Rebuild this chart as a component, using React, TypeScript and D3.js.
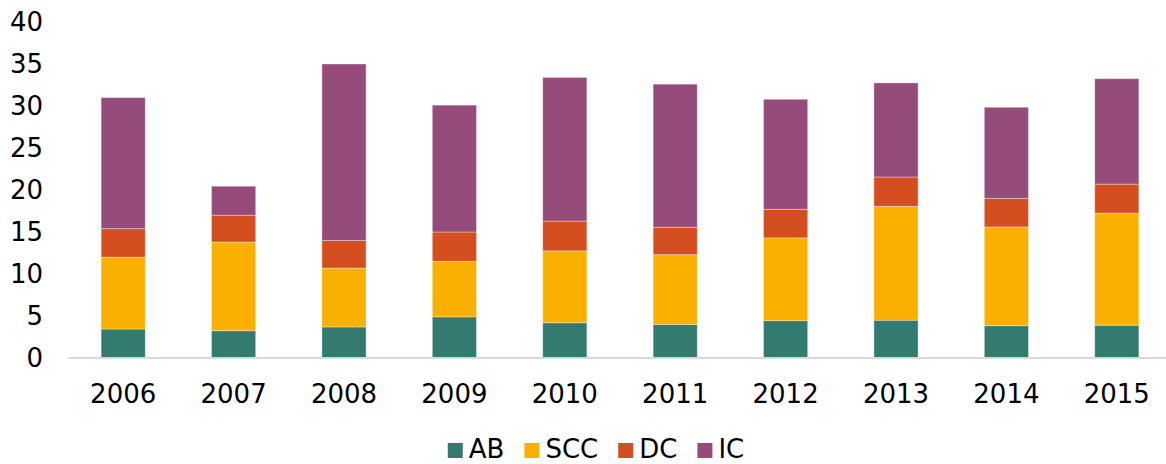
import React, { useEffect, useRef } from "react";
import * as d3 from "d3";

// values
const years = ["2006", "2007", "2008", "2009", "2010", "2011", "2012", "2013", "2014", "2015"];
const seriesNames = ["AB", "SCC", "DC", "IC"];
const abValues = [3.45, 3.25, 3.7, 4.9, 4.2, 4.0, 4.45, 4.5, 3.85, 3.9];
const sccValues = [8.55, 10.55, 7.0, 6.6, 8.55, 8.3, 9.85, 13.55, 11.75, 13.35];
const dcValues = [3.4, 3.2, 3.3, 3.5, 3.55, 3.25, 3.4, 3.5, 3.4, 3.45];
const icValues = [15.6, 3.45, 21.0, 15.1, 17.1, 17.05, 13.1, 11.2, 10.85, 12.55];
const yTicks = [0, 5, 10, 15, 20, 25, 30, 35, 40];
const colors = ["#337B6E", "#F9B000", "#D54E1F", "#954C7A"];

const App = () => {
  const chartRef = useRef<SVGSVGElement>(null);

  useEffect(() => {
    const width = 1166;
    const height = 464;
    const font = "'DejaVu Sans', Verdana, sans-serif";

    const svg = d3.select(chartRef.current);
    svg.selectAll("*").remove();
    svg.attr("width", width).attr("height", height);

    // Prepare rows for stacking
    const valueArrays = [abValues, sccValues, dcValues, icValues];
    const rows = years.map((year, i) => {
      const row: any = { year };
      seriesNames.forEach((s, k) => (row[s] = valueArrays[k][i]));
      return row;
    });
    const stacked = d3.stack().keys(seriesNames)(rows);

    const x = d3
      .scaleBand()
      .domain(years)
      .range([68, 1172])
      .paddingInner(0.6)
      .paddingOuter(0.3);
    const y = d3.scaleLinear().domain([0, 40]).range([358, 22]);

    // Bars
    svg
      .append("g")
      .selectAll("g")
      .data(stacked)
      .enter()
      .append("g")
      .attr("fill", (d, i) => colors[i])
      .selectAll("rect")
      .data((d) => d)
      .enter()
      .append("rect")
      .attr("x", (d: any) => x(d.data.year)!)
      .attr("width", x.bandwidth())
      .attr("y", (d) => y(d[1]))
      .attr("height", (d) => y(d[0]) - y(d[1]))
      .attr("stroke", "#fff")
      .attr("stroke-opacity", 0.35)
      .attr("stroke-width", 1);

    // x axis line
    svg
      .append("line")
      .attr("x1", 68)
      .attr("x2", width)
      .attr("y1", y(0))
      .attr("y2", y(0))
      .attr("stroke", "#D9D9D9")
      .attr("stroke-width", 2);

    // y tick labels
    svg
      .append("g")
      .selectAll("text")
      .data(yTicks)
      .enter()
      .append("text")
      .attr("x", 43)
      .attr("y", (d) => y(d))
      .attr("dy", "0.36em")
      .attr("text-anchor", "end")
      .attr("font-family", font)
      .attr("font-size", "26px")
      .attr("fill", "#000")
      .text((d) => d);

    // x tick labels
    svg
      .append("g")
      .selectAll("text")
      .data(years)
      .enter()
      .append("text")
      .attr("x", (d) => x(d)! + x.bandwidth() / 2)
      .attr("y", 403)
      .attr("text-anchor", "middle")
      .attr("font-family", font)
      .attr("font-size", "26px")
      .attr("fill", "#000")
      .text((d) => d);

    // Legend
    const legend = svg.append("g");
    let cursor = 0;
    seriesNames.forEach((name, i) => {
      const item = legend.append("g").attr("transform", `translate(${cursor},0)`);
      item
        .append("rect")
        .attr("x", 0)
        .attr("y", 443)
        .attr("width", 15)
        .attr("height", 15)
        .attr("fill", colors[i]);
      const label = item
        .append("text")
        .attr("x", 21)
        .attr("y", 458)
        .attr("font-family", font)
        .attr("font-size", "26px")
        .attr("fill", "#000")
        .text(name);
      const w = (label.node() as SVGTextElement).getComputedTextLength();
      cursor += 21 + w + 20;
    });
    const legendWidth = cursor - 20;
    legend.attr("transform", `translate(${596 - legendWidth / 2},0)`);
  }, []);

  return (
    <svg
      ref={chartRef}
      style={{ position: "absolute", left: 0, top: 0, background: "#fff" }}
    ></svg>
  );
};

export default App;
